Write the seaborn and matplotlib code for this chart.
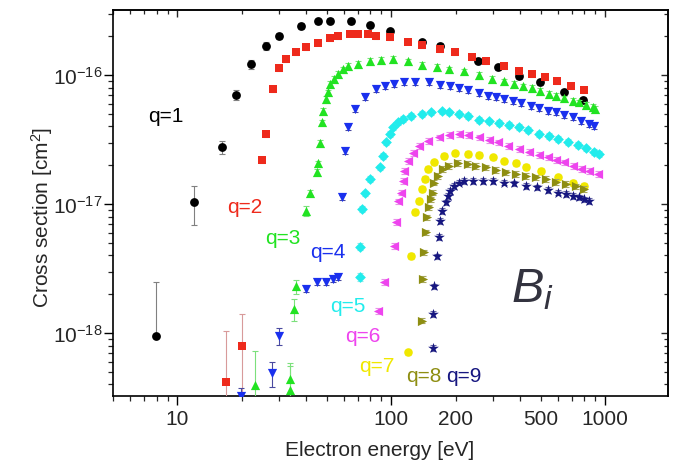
import numpy as np
import pandas as pd
import matplotlib
matplotlib.use("Agg")
import matplotlib.pyplot as plt
import matplotlib.ticker as mticker
import seaborn as sns

# cross sections are written in units of 1e-18 cm^2
SCALE = 1e-18

q1_E = [7.98, 12.0, 16.1, 18.9, 22.0, 26.1, 30.0, 37.7, 45.6, 51.9, 65.2, 80.0,
        99.2, 140, 169, 256, 316, 398, 499, 645, 792]
q1_sig = [0.95, 10.4, 27.8, 70.3, 122, 169, 202, 241, 261, 264, 261, 244,
          220, 181, 169, 129, 115, 97.7, 87.8, 74.2, 64.4]
q1_err_hi = [1.52, 3.5, 3.2, 6, 10, 12, 12, 12, 12, 12, 12, 10, 9, 7, 7, 5, 5, 4, 4, 3, 3]
q1_err_lo = [0.0, 3.5, 3.2, 6, 10, 12, 12, 12, 12, 12, 12, 10, 9, 7, 7, 5, 5, 4, 4, 3, 3]

q2_E = [16.9, 20.0, 24.9, 25.9, 27.9, 30.0, 32.1, 35.8, 40.1, 45.7, 51.9, 56.7,
        64.3, 69.8, 78.1, 85.1, 99.2, 119.6, 139.6, 169.4, 199.7, 239, 278, 337,
        398, 457, 524, 597, 690, 794]
q2_sig = [0.419, 0.797, 21.9, 34.9, 77.9, 113, 133, 150, 164, 179, 193, 202,
          210, 210, 210, 202, 196, 182, 171, 159, 150, 139, 129, 118,
          108, 102, 96.5, 90.3, 82.6, 76.5]
q2_err_lead = [0.62, 0.61]

q3_E = [23.1, 33.8, 33.8, 35.0, 36.0, 40.1, 41.5, 44.8, 45.7, 46.6, 47.4, 47.9,
        49.7, 50.6, 51.9, 54.3, 56.3, 59.4, 62.7, 69.8, 80.0, 89.8, 101.7, 119.6,
        139.6, 163.3, 187.3, 218.4, 256.6, 296.5, 337, 375.6, 415, 456, 499, 549.5,
        590, 645, 706, 759, 815, 875, 901]
q3_sig = [0.397, 0.361, 0.440, 1.53, 2.30, 8.83, 12.3, 17.8, 20.7, 29.7, 43.0, 52.9,
          65.2, 73.4, 85.1, 93.1, 102, 111, 118, 123, 129, 131, 133, 128,
          120, 116, 111, 107, 100, 93.1, 89.3, 85.1, 81.7, 79.3, 75.5, 71.2,
          69.1, 66.0, 63.2, 61.4, 58.5, 56.8, 54.5]
q3_err_lead = [0.33, 0.19, 0.15, 0.30, 0.30, 0.8]

q4_E = [19.9, 27.8, 29.8, 40.1, 45.1, 49.7, 53.3, 56.3, 58.8, 61.0, 62.7, 67.6,
        75.6, 84.5, 94.0, 103.6, 114.2, 129.5, 149.9, 169.4, 189.3, 208.5, 228, 258.6,
        282.7, 309.6, 338.3, 370, 405, 451, 493, 539, 590, 645, 706, 772, 845, 891]
q4_sig = [0.327, 0.490, 0.953, 2.19, 2.47, 2.47, 2.62, 2.70, 11.3, 25.9, 39.3, 54.5,
          67.2, 77.9, 82.6, 85.1, 88.7, 88.7, 87.8, 83.6, 81.7, 78.8, 76.5, 72.5,
          69.1, 67.2, 65.2, 63.2, 60.7, 57.8, 55.2, 52.9, 51.4, 49.0, 47.0, 44.3, 41.7, 40.5]
q4_err_lead = [0.05, 0.11, 0.14, 0.12, 0.12, 0.12, 0.12, 0.12]

q5_E = [71.1, 71.6, 73.2, 75.6, 80.0, 88.2, 91.3, 94.8, 98.2, 101.7, 107.4, 113.3,
        124.0, 139.6, 153.8, 173.1, 187.3, 208.5, 228, 258.6, 288, 318.4, 357, 398,
        435, 493, 549.5, 600, 669, 745, 815, 891, 940]
q5_sig = [2.73, 4.67, 9.15, 12.1, 15.6, 19.3, 23.7, 30.1, 34.9, 39.3, 43.0, 45.6,
          48.4, 49.9, 51.4, 52.3, 51.4, 49.9, 48.4, 45.0, 43.8, 42.5, 41.0, 39.8,
          37.7, 34.9, 33.8, 31.9, 30.4, 28.7, 27.0, 25.4, 24.4]
q5_err_lead = [0.2, 0.3]

q6_E = [86.6, 93.0, 103.6, 105.5, 107.4, 111.4, 113.3, 115.4, 119.6, 126.2, 135.6, 148.3,
        168.2, 187.3, 208.5, 228, 258.6, 288, 315, 350.6, 398, 443, 493, 539,
        590, 645, 706, 772, 845, 924]
q6_sig = [1.49, 2.50, 4.75, 7.29, 10.5, 12.3, 15.2, 18.1, 21.7, 24.8, 28.3, 31.0,
          32.9, 34.3, 34.9, 34.3, 32.9, 31.5, 30.1, 28.3, 26.7, 25.4, 24.0, 23.0,
          21.9, 21.1, 19.8, 18.7, 18.1, 17.1]

q7_E = [119.6, 124.0, 129.2, 135.6, 139.6, 144.6, 148.3, 159.4, 177.5, 199.7, 228, 258.6,
        298.5, 338.3, 384, 427.6, 502, 600, 706, 800]
q7_sig = [0.708, 3.98, 8.71, 10.6, 13.1, 15.6, 18.7, 21.1, 23.7, 24.7, 24.4, 24.0,
          23.0, 21.4, 20.8, 19.5, 18.1, 16.1, 14.7, 13.9]

q8_E = [139.6, 140.5, 143.1, 145.7, 147.3, 149.9, 153.8, 156.4, 159.4, 165.1, 174.2, 187.3,
        204.8, 228, 249.5, 278, 309.6, 344.6, 384, 427.6, 476, 530, 590, 657, 732, 800]
q8_sig = [1.25, 2.62, 4.22, 6.04, 7.88, 9.43, 10.9, 12.3, 14.7, 16.6, 18.7, 19.8,
          20.8, 20.4, 19.8, 19.3, 18.5, 17.6, 17.1, 16.6, 16.1, 15.6, 14.9, 14.3, 13.7, 13.1]

q9_E = [156.4, 157.7, 159.4, 164.1, 167.0, 169.9, 173.1, 180.7, 183.9, 188.7, 197.6, 208.5,
        220, 240.5, 268, 298.5, 338.3, 377, 427.6, 479, 539, 600, 657, 706, 759, 800, 845]
q9_sig = [0.765, 1.40, 2.30, 3.93, 5.58, 7.42, 8.87, 10.3, 11.6, 12.7, 13.9, 14.7,
          15.2, 15.2, 15.2, 15.2, 14.7, 14.5, 13.9, 13.5, 12.9, 12.3, 12.0, 11.6, 11.3, 10.9, 10.6]

charge_labels = ["q=1", "q=2", "q=3", "q=4", "q=5", "q=6", "q=7", "q=8", "q=9"]
energies = [q1_E, q2_E, q3_E, q4_E, q5_E, q6_E, q7_E, q8_E, q9_E]
sigmas = [q1_sig, q2_sig, q3_sig, q4_sig, q5_sig, q6_sig, q7_sig, q8_sig, q9_sig]
lead_errs = [None, q2_err_lead, q3_err_lead, q4_err_lead, q5_err_lead, [], [], [], []]
REL_ERR = 0.05

# where the q labels sit (data coords)
label_x = [8.8, 20.6, 31.2, 50.4, 62.5, 73.4, 85.9, 141.6, 217.8]
label_y = [4.9e-17, 9.5e-18, 5.55e-18, 4.32e-18, 1.65e-18, 9.65e-19, 5.65e-19, 4.72e-19, 4.72e-19]

colors = ["#000000", "#ee2a1c", "#22e322", "#1a30ee", "#22ecec",
          "#ee44ee", "#f0e800", "#8e8e12", "#161680"]
ecolors = ["#808080", "#d89a9a", "#7ce07c", "#4a4aa0", "#8ee8e8",
           "#e890e8", "#e8e080", "#a8a860", "#6a6aa8"]
markers = ["o", "s", "^", "v", "D", "<", "o", ">", "*"]
sizes = [40, 32, 44, 44, 30, 44, 38, 44, 66]

sns.set_style("ticks")
plt.rcParams["font.family"] = ["Liberation Sans", "DejaVu Sans"]
plt.rcParams["mathtext.fontset"] = "custom"
plt.rcParams["mathtext.rm"] = "Liberation Sans"
plt.rcParams["mathtext.it"] = "Liberation Sans:italic"
plt.rcParams["mathtext.default"] = "regular"
plt.rcParams["axes.unicode_minus"] = False

frames = []
for lab, E, s in zip(charge_labels, energies, sigmas):
    frames.append(pd.DataFrame({"E": E, "sigma": np.array(s) * SCALE, "q": lab}))
df = pd.concat(frames, ignore_index=True)

fig = plt.figure(figsize=(6.75, 4.64), dpi=100)
ax = fig.add_axes([0.1674, 0.1444, 0.8222, 0.8319])
ax.set_xscale("log")
ax.set_yscale("log")

for i, lab in enumerate(charge_labels):
    sub = df[df["q"] == lab]
    sig = sub["sigma"].to_numpy()
    if i == 0:
        yerr = [np.array(q1_err_lo) * SCALE, np.array(q1_err_hi) * SCALE]
    else:
        lead = np.array(lead_errs[i]) * SCALE
        yerr = np.r_[lead, REL_ERR * sig[len(lead):]]
    ax.errorbar(sub["E"], sig, yerr=yerr, fmt="none", ecolor=ecolors[i],
                elinewidth=0.8, capsize=2.3, capthick=0.8, zorder=3 + i)
    sns.scatterplot(data=sub, x="E", y="sigma", color=colors[i], marker=markers[i],
                    s=sizes[i], linewidth=0, ax=ax, legend=False, zorder=3.5 + i)
    ax.text(label_x[i], label_y[i], lab, color=colors[i], fontsize=15,
            ha="center", va="center")

ax.text(457, 2.19e-18, r"$\mathit{B}_{\mathit{i}}$", color="#33333f", fontsize=35,
        ha="center", va="center")

ax.set_xlim(5, 1970)
ax.set_ylim(3.25e-19, 3.2e-16)

ax.xaxis.set_major_locator(mticker.FixedLocator([10, 100, 1000]))
ax.xaxis.set_major_formatter(mticker.FuncFormatter(lambda v, _: f"{v:g}"))
ax.xaxis.set_minor_locator(mticker.LogLocator(base=10, subs=np.arange(2, 10), numticks=20))
ax.xaxis.set_minor_formatter(mticker.FuncFormatter(
    lambda v, _: f"{v:g}" if round(v) in (200, 500) else ""))
ax.yaxis.set_major_locator(mticker.FixedLocator([1e-18, 1e-17, 1e-16]))
ax.yaxis.set_major_formatter(mticker.LogFormatterSciNotation())
ax.yaxis.set_minor_locator(mticker.LogLocator(base=10, subs=np.arange(2, 10), numticks=20))
ax.yaxis.set_minor_formatter(mticker.NullFormatter())

ax.tick_params(which="major", direction="out", length=6.5, width=1.0,
               labelsize=15, color="black")
ax.tick_params(axis="x", which="major", pad=3)
ax.tick_params(axis="y", which="major", pad=1)
ax.tick_params(which="minor", direction="out", length=3.6, width=0.9)
ax.tick_params(axis="x", which="minor", labelsize=15, pad=5.9)
for sp in ax.spines.values():
    sp.set_linewidth(1.2)
    sp.set_color("black")

secx = ax.secondary_xaxis("top")
secx.tick_params(which="major", direction="in", length=5, width=1.0, labeltop=False)
secx.tick_params(which="minor", direction="in", length=3, width=0.9)
secx.spines["top"].set_linewidth(1.2)
secy = ax.secondary_yaxis("right")
secy.tick_params(which="major", direction="in", length=5, width=1.0, labelright=False)
secy.tick_params(which="minor", direction="in", length=3, width=0.9)
secy.spines["right"].set_linewidth(1.2)

ax.set_xlabel("Electron energy [eV]", fontsize=15)
ax.set_ylabel("Cross section [cm$^2$]", fontsize=15)
ax.xaxis.set_label_coords(0.481, -0.114)
ax.yaxis.set_label_coords(-0.104, 0.466)

fig.savefig("out.png", dpi=100)
